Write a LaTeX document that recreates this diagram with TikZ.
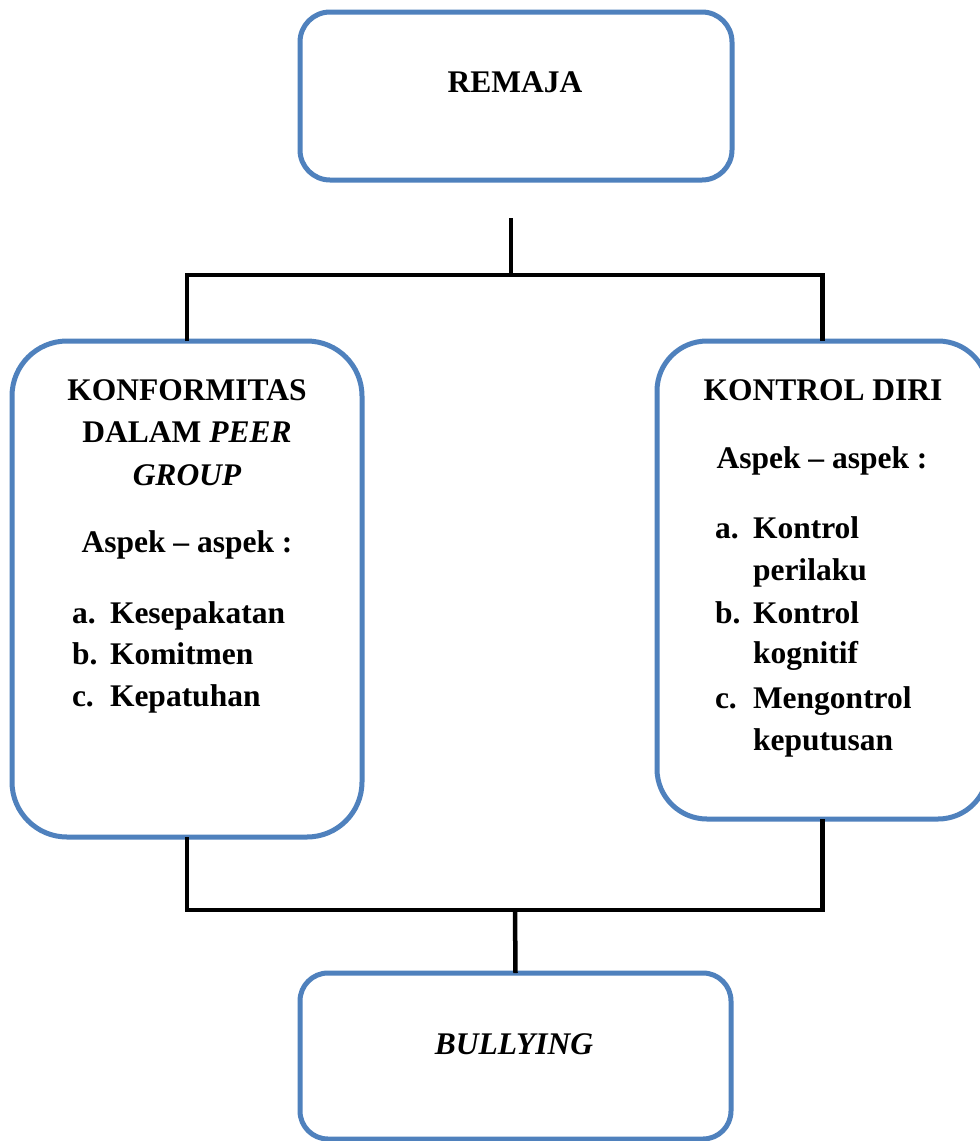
\documentclass[tikz,border=0pt]{standalone}
\usepackage{fontspec}
\setmainfont{Liberation Serif}
\definecolor{boxblue}{HTML}{4F81BD}
\begin{document}
\begin{tikzpicture}[x=1pt,y=-1pt,
  box/.style={draw=boxblue, line width=5pt, fill=white, rectangle, inner sep=0pt, outer sep=0pt},
  conn/.style={draw=black, line width=4.5pt},
  txt/.style={inner sep=0pt, outer sep=0pt, anchor=base, font=\fontsize{31.5}{40}\selectfont\bfseries},
  txtl/.style={txt, anchor=base west}]
\useasboundingbox (0,0) rectangle (980,1141);
\clip (0,0) rectangle (980,1141);
\fill[white] (0,0) rectangle (980,1141);

% boxes
\node[box, minimum width=432pt, minimum height=168pt, rounded corners=30pt] (remaja) at (516,96) {};
\node[box, minimum width=350pt, minimum height=496pt, rounded corners=55pt] (left) at (187,589) {};
\node[box, minimum width=331pt, minimum height=478pt, rounded corners=50pt] (right) at (822.5,580) {};
\node[box, minimum width=431pt, minimum height=166pt, rounded corners=28pt] (bully) at (515.5,1056) {};

% connectors
\coordinate (tstart) at (511,218);
\coordinate (thub) at (511,275);
\coordinate (bhub) at (515,910);
\draw[conn] (tstart) -- (thub);
\draw[conn] (left.north) |- (thub) -| (right.north);
\draw[conn] (left.south) |- (bhub) -| (right.south);
\draw[conn] (bhub) -- (bully.north);

% texts
\node[txt] (tremaja) at (515,92) {REMAJA};
\node[txt] (tbully) at (514,1054) {\itshape BULLYING};

\node[txt] (l1) at (187,400) {KONFORMITAS};
\node[txt] (l2) at (187,442) {DALAM \textit{PEER}};
\node[txt] (l3) at (187,485) {\itshape GROUP};
\node[txt] (l4) at (187,552) {Aspek -- aspek :};
\node[txtl] (la) at (72,623) {a.};
\node[txtl] (la2) at (110,623) {Kesepakatan};
\node[txtl] (lb) at (72,664) {b.};
\node[txtl] (lb2) at (110,664) {Komitmen};
\node[txtl] (lc) at (72,706) {c.};
\node[txtl] (lc2) at (110,706) {Kepatuhan};

\node[txt] (r1) at (823,400) {KONTROL DIRI};
\node[txt] (r2) at (822,468) {Aspek -- aspek :};
\node[txtl] (ra) at (715,538) {a.};
\node[txtl] (ra2) at (753,538) {Kontrol};
\node[txtl] (ra3) at (753,580) {perilaku};
\node[txtl] (rb) at (715,623) {b.};
\node[txtl] (rb2) at (753,623) {Kontrol};
\node[txtl] (rb3) at (753,663) {kognitif};
\node[txtl] (rc) at (715,708) {c.};
\node[txtl] (rc2) at (753,708) {Mengontrol};
\node[txtl] (rc3) at (753,750) {keputusan};
\end{tikzpicture}
\end{document}
